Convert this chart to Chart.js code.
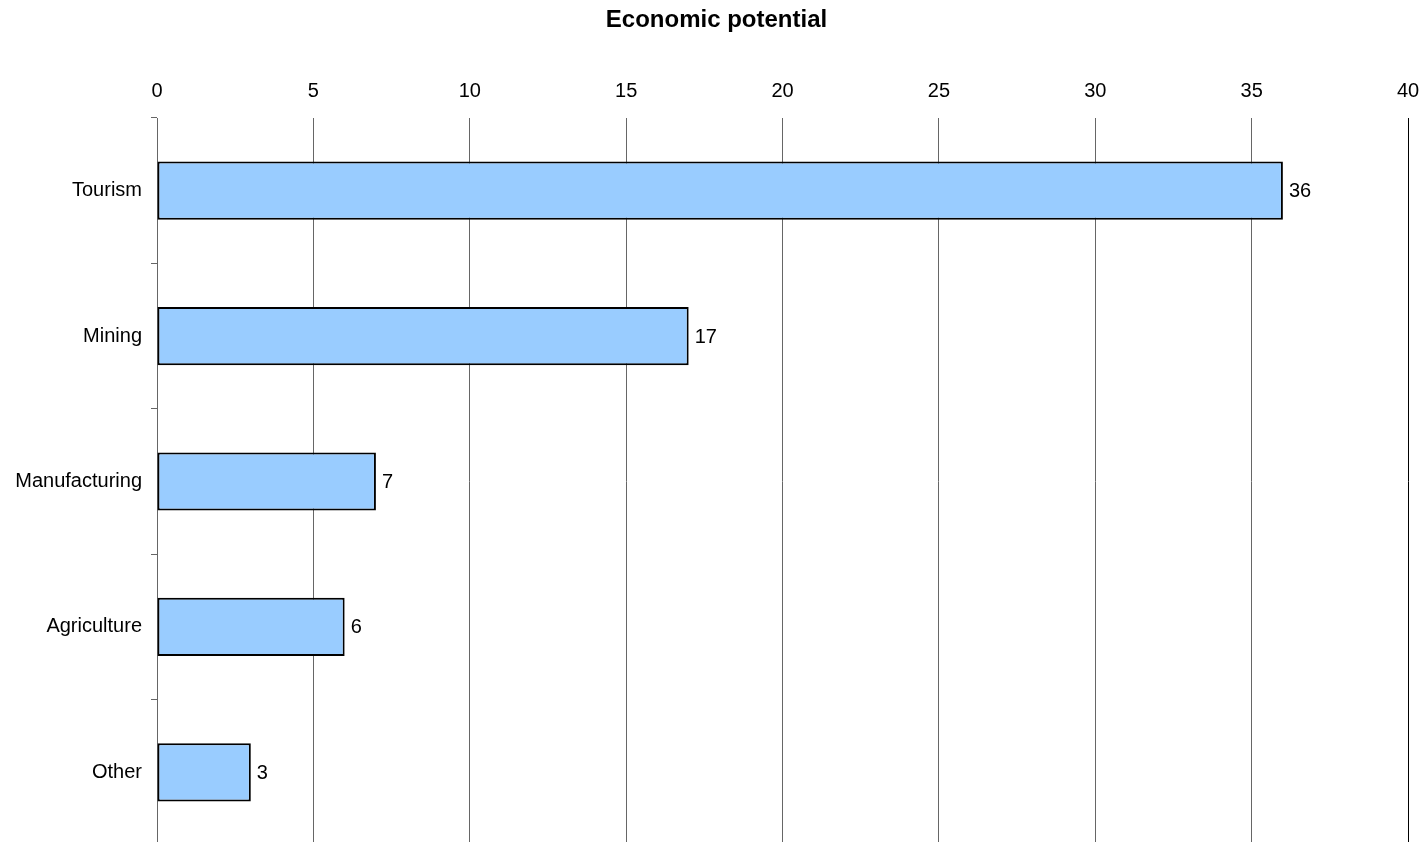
<!DOCTYPE html>
<html>
<head>
<meta charset="utf-8">
<script src="https://cdn.jsdelivr.net/npm/chart.js@4.4.1/dist/chart.umd.min.js"></script>
<style>
  html, body { margin: 0; padding: 0; background: #fff; overflow: hidden; }
  #wrap { width: 1425px; height: 842px; overflow: hidden; }
  #inner { width: 1425px; height: 845px; position: relative; }
</style>
</head>
<body>
<div id="wrap"><div id="inner"><canvas id="econChart"></canvas></div></div>
<script>
const categories = ['Tourism', 'Mining', 'Manufacturing', 'Agriculture', 'Other'];
const potential = [36, 17, 7, 6, 3];
const xTicks = [0, 5, 10, 15, 20, 25, 30, 35, 40];
const chartTitle = 'Economic potential';

const FONT = "'Liberation Sans', Arial, Helvetica, sans-serif";

// value labels at the end of each bar
const valueLabels = {
    id: 'valueLabels',
    afterDatasetsDraw(chart) {
        const ctx = chart.ctx;
        ctx.save();
        ctx.font = '20px ' + FONT;
        ctx.fillStyle = '#000';
        ctx.textAlign = 'left';
        ctx.textBaseline = 'middle';
        chart.getDatasetMeta(0).data.forEach((bar, i) => {
            ctx.fillText(String(potential[i]), bar.x + 6, bar.y + 1);
        });
        ctx.restore();
    }
};

// title sits a little right of the canvas middle, so draw it by hand
const titleText = {
    id: 'titleText',
    afterDraw(chart) {
        const ctx = chart.ctx;
        ctx.save();
        ctx.font = 'bold 24px ' + FONT;
        ctx.fillStyle = '#000';
        ctx.textAlign = 'center';
        ctx.textBaseline = 'middle';
        ctx.fillText(chartTitle, chart.width / 2 + 4, 20);
        ctx.restore();
    }
};

const econChart = document.getElementById('econChart').getContext('2d');
new Chart(econChart, {
    type: 'bar',
    data: {
        labels: categories,
        datasets: [{
            label: chartTitle,
            data: potential,
            backgroundColor: '#99CCFF',
            borderColor: '#000000',
            borderWidth: 2,
            borderSkipped: false,
            categoryPercentage: 1,
            barPercentage: 0.4
        }]
    },
    options: {
        indexAxis: 'y',
        responsive: true,
        maintainAspectRatio: false,
        animation: false,
        layout: { padding: { left: 0, right: 17, top: 35.8, bottom: 0 } },
        plugins: {
            legend: { display: false },
            tooltip: { enabled: false },
            title: { display: false }
        },
        scales: {
            x: {
                position: 'top',
                min: 0,
                max: 40,
                afterBuildTicks: (scale) => { scale.ticks = xTicks.map(v => ({ value: v })); },
                afterFit: (scale) => {
                    scale.height = 82.2;
                    scale.paddingLeft = 0;
                    scale.paddingRight = 0;
                },
                grid: {
                    color: (c) => (c.tick && c.tick.value === 40 ? '#000' : '#666'),
                    lineWidth: 1,
                    drawTicks: false
                },
                border: { display: false },
                ticks: {
                    color: '#000',
                    padding: 15,
                    font: { family: FONT, size: 20 }
                }
            },
            y: {
                afterFit: (scale) => {
                    scale.width = 157;
                    scale.paddingTop = 0;
                    scale.paddingBottom = 0;
                },
                grid: {
                    offset: true,
                    drawOnChartArea: false,
                    color: '#666',
                    tickLength: 6
                },
                border: { display: true, color: '#666', width: 1 },
                ticks: {
                    color: '#000',
                    padding: 9,
                    font: { family: FONT, size: 20 }
                }
            }
        }
    },
    plugins: [valueLabels, titleText]
});
</script>
</body>
</html>
